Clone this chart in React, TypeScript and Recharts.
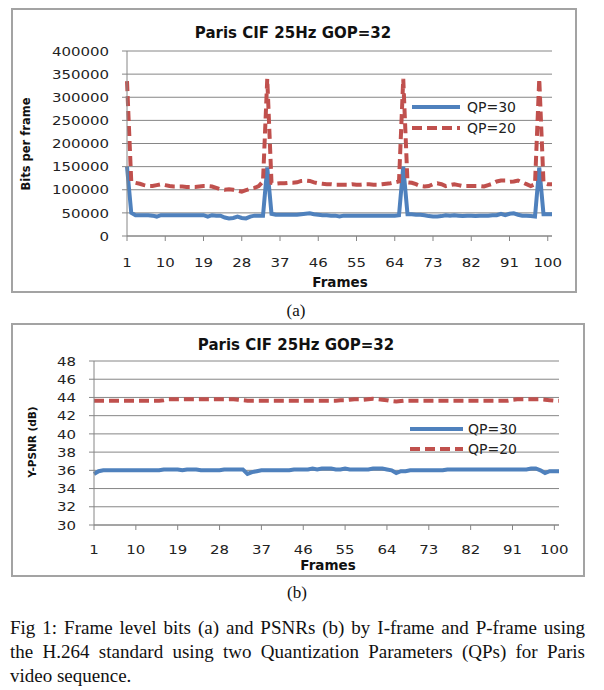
import React from 'react';
import { LineChart, Line, XAxis, YAxis, CartesianGrid, Legend } from 'recharts';

const frames = [
  1, 2, 3, 4, 5, 6, 7, 8, 9, 10, 11, 12, 13, 14, 15, 16, 17, 18, 19, 20,
  21, 22, 23, 24, 25, 26, 27, 28, 29, 30, 31, 32, 33, 34, 35, 36, 37, 38, 39, 40,
  41, 42, 43, 44, 45, 46, 47, 48, 49, 50, 51, 52, 53, 54, 55, 56, 57, 58, 59, 60,
  61, 62, 63, 64, 65, 66, 67, 68, 69, 70, 71, 72, 73, 74, 75, 76, 77, 78, 79, 80,
  81, 82, 83, 84, 85, 86, 87, 88, 89, 90, 91, 92, 93, 94, 95, 96, 97, 98, 99, 100,
  101,
];

const frameTicks = [1, 10, 19, 28, 37, 46, 55, 64, 73, 82, 91, 100];
const bitsTicks = [0, 50000, 100000, 150000, 200000, 250000, 300000, 350000, 400000];
const psnrTicks = [30, 32, 34, 36, 38, 40, 42, 44, 46, 48];

const qp30Bits = [
  150000, 50000, 45000, 45000, 45000, 45000, 44000, 42000, 45000, 45000,
  45000, 45000, 45000, 45000, 45000, 45000, 45000, 45000, 45000, 42000,
  45000, 44000, 44000, 40000, 38000, 39000, 42000, 39000, 38000, 42000,
  44000, 44000, 44000, 148000, 48000, 46000, 46000, 46000, 46000, 46000,
  46000, 47000, 48000, 49000, 47000, 46000, 45000, 45000, 44000, 44000,
  42000, 44000, 44000, 44000, 44000, 44000, 44000, 44000, 44000, 44000,
  44000, 44000, 44000, 44000, 45000, 150000, 47000, 47000, 46000, 46000,
  45000, 43000, 42000, 42000, 43000, 45000, 44000, 45000, 44000, 43000,
  44000, 44000, 43000, 44000, 44000, 44000, 45000, 45000, 48000, 45000,
  48000, 49000, 46000, 44000, 44000, 43000, 42000, 148000, 47000, 47000,
  47000,
];

const qp20Bits = [
  335000, 118000, 115000, 113000, 110000, 108000, 108000, 110000, 112000, 110000,
  108000, 107000, 107000, 107000, 106000, 106000, 106000, 107000, 108000, 108000,
  107000, 104000, 101000, 100000, 101000, 100000, 98000, 96000, 99000, 102000,
  104000, 108000, 118000, 340000, 115000, 113000, 114000, 114000, 115000, 115000,
  116000, 119000, 120000, 119000, 116000, 114000, 113000, 112000, 112000, 111000,
  111000, 111000, 111000, 112000, 111000, 111000, 112000, 112000, 111000, 111000,
  112000, 113000, 114000, 116000, 118000, 340000, 116000, 115000, 112000, 108000,
  107000, 108000, 112000, 114000, 112000, 108000, 110000, 112000, 110000, 108000,
  108000, 108000, 108000, 108000, 107000, 110000, 113000, 118000, 120000, 120000,
  117000, 118000, 120000, 116000, 112000, 108000, 112000, 340000, 115000, 112000,
  112000,
];

const qp30Psnr = [
  35.6, 35.9, 36.0, 36.0, 36.0, 36.0, 36.0, 36.0, 36.0, 36.0,
  36.0, 36.0, 36.0, 36.0, 36.0, 36.1, 36.1, 36.1, 36.1, 36.0,
  36.1, 36.1, 36.1, 36.0, 36.0, 36.0, 36.0, 36.0, 36.1, 36.1,
  36.1, 36.1, 36.1, 35.6, 35.8, 35.9, 36.0, 36.0, 36.0, 36.0,
  36.0, 36.0, 36.0, 36.1, 36.1, 36.1, 36.1, 36.2, 36.1, 36.2,
  36.2, 36.2, 36.1, 36.1, 36.2, 36.1, 36.1, 36.1, 36.1, 36.1,
  36.2, 36.2, 36.2, 36.1, 36.0, 35.7, 35.9, 35.9, 36.0, 36.0,
  36.0, 36.0, 36.0, 36.0, 36.0, 36.0, 36.1, 36.1, 36.1, 36.1,
  36.1, 36.1, 36.1, 36.1, 36.1, 36.1, 36.1, 36.1, 36.1, 36.1,
  36.1, 36.1, 36.1, 36.1, 36.2, 36.2, 36.0, 35.7, 35.9, 35.9,
  35.9,
];

const qp20Psnr = [
  43.65, 43.65, 43.65, 43.65, 43.65, 43.65, 43.65, 43.65, 43.65, 43.65,
  43.65, 43.65, 43.65, 43.65, 43.65, 43.7, 43.8, 43.8, 43.8, 43.8,
  43.8, 43.8, 43.8, 43.8, 43.8, 43.8, 43.8, 43.8, 43.8, 43.8,
  43.8, 43.75, 43.7, 43.65, 43.65, 43.65, 43.65, 43.65, 43.65, 43.65,
  43.65, 43.65, 43.65, 43.65, 43.65, 43.65, 43.65, 43.65, 43.65, 43.65,
  43.65, 43.65, 43.65, 43.7, 43.7, 43.75, 43.8, 43.8, 43.75, 43.8,
  43.85, 43.8, 43.75, 43.7, 43.6, 43.55, 43.6, 43.65, 43.65, 43.65,
  43.65, 43.65, 43.65, 43.65, 43.65, 43.65, 43.65, 43.65, 43.65, 43.65,
  43.65, 43.65, 43.65, 43.65, 43.65, 43.65, 43.65, 43.65, 43.65, 43.65,
  43.75, 43.8, 43.8, 43.8, 43.8, 43.8, 43.8, 43.75, 43.7, 43.65,
  43.65,
];

const seriesNames = ['QP=30', 'QP=20'];
const chartTitle = 'Paris CIF 25Hz GOP=32';
const captionLines = [
  'Fig 1: Frame level bits (a) and PSNRs (b) by I-frame and P-frame using',
  'the H.264 standard using two Quantization Parameters (QPs) for Paris',
  'video sequence.',
];

const bitsData = frames.map((f, i) => ({ frame: f, qp30: qp30Bits[i], qp20: qp20Bits[i] }));
const psnrData = frames.map((f, i) => ({ frame: f, qp30: qp30Psnr[i], qp20: qp20Psnr[i] }));

const BLUE = '#4F81BD';
const RED = '#C0504D';
const GRID = '#868686';
const SANS = 'DejaVu Sans, Verdana, sans-serif';
const TICK_FS = 13;
const TICK_SX = 1.15;

const YTick = (props: any) => {
  const { x, y, payload } = props;
  return (
    <text
      transform={`translate(${x},${y}) scale(${TICK_SX},1)`}
      textAnchor="end"
      dy="0.36em"
      fontFamily={SANS}
      fontSize={TICK_FS}
      fill="#222"
    >
      {payload.value}
    </text>
  );
};

const XTick = (props: any) => {
  const { x, y, payload } = props;
  return (
    <text
      transform={`translate(${x},${y}) scale(${TICK_SX},1)`}
      textAnchor="middle"
      dy="0.71em"
      fontFamily={SANS}
      fontSize={TICK_FS}
      fill="#222"
    >
      {payload.value}
    </text>
  );
};

const makeLegend = (lineLen: number, textX: number, gap: number) => () => (
  <svg width={140} height={50} style={{ display: 'block' }}>
    <line x1={0} x2={lineLen} y1={10} y2={10} stroke={BLUE} strokeWidth={4} />
    <text x={textX} y={10} dy="0.36em" fontFamily={SANS} fontSize={14} fill="#222">
      {seriesNames[0]}
    </text>
    <line x1={0} x2={lineLen} y1={10 + gap} y2={10 + gap} stroke={RED} strokeWidth={4} strokeDasharray="10 5" />
    <text x={textX} y={10 + gap} dy="0.36em" fontFamily={SANS} fontSize={14} fill="#222">
      {seriesNames[1]}
    </text>
  </svg>
);

const Label = ({ x, y, text, size, bold = true, rotate = false, family = SANS }: any) => (
  <div
    style={{
      position: 'absolute',
      left: x,
      top: y,
      transform: `translate(-50%,-50%)${rotate ? ' rotate(-90deg)' : ''}`,
      whiteSpace: 'nowrap',
      fontFamily: family,
      fontSize: size,
      fontWeight: bold ? 'bold' : 'normal',
      lineHeight: 1,
      color: '#111',
    }}
  >
    {text}
  </div>
);

const Box = ({ left, top, width, height }: any) => (
  <div
    style={{
      position: 'absolute',
      left,
      top,
      width,
      height,
      boxSizing: 'border-box',
      border: '2px solid #a3a3a3',
      pointerEvents: 'none',
    }}
  />
);

export default function App() {
  return (
    <div style={{ position: 'absolute', left: 0, top: 0, width: 604, height: 690, background: '#fff', overflow: 'hidden' }}>
      {/* Chart (a) */}
      <div style={{ position: 'absolute', left: 11, top: 8 }}>
        <LineChart width={566} height={285} data={bitsData} margin={{ top: 43, right: 25, left: 0, bottom: 0 }}>
          <CartesianGrid vertical={false} stroke={GRID} strokeWidth={1} />
          <XAxis
            dataKey="frame"
            type="number"
            domain={[1, 101]}
            ticks={frameTicks}
            interval={0}
            height={57}
            tickSize={5}
            tickMargin={17}
            tick={<XTick />}
            stroke={GRID}
          />
          <YAxis
            domain={[0, 400000]}
            ticks={bitsTicks}
            interval={0}
            width={116}
            tickSize={5}
            tickMargin={13}
            tick={<YTick />}
            stroke={GRID}
          />
          <Legend
            layout="vertical"
            align="center"
            verticalAlign="middle"
            content={makeLegend(48, 55, 21)}
            wrapperStyle={{ left: 401, top: 89, width: 140, height: 50 }}
          />
          <Line type="linear" dataKey="qp30" name={seriesNames[0]} stroke={BLUE} strokeWidth={4} dot={false} isAnimationActive={false} />
          <Line type="linear" dataKey="qp20" name={seriesNames[1]} stroke={RED} strokeWidth={4} strokeDasharray="10 5" dot={false} isAnimationActive={false} />
        </LineChart>
      </div>
      <Box left={11} top={8} width={566} height={285} />
      <Label x={293} y={33} text={chartTitle} size={15} />
      <Label x={27} y={144} text="Bits per frame" size={11.5} rotate />
      <Label x={340} y={283} text="Frames" size={13.5} />
      <Label x={296} y={310} text="(a)" size={17} bold={false} family="Liberation Serif, Times New Roman, serif" />

      {/* Chart (b) */}
      <div style={{ position: 'absolute', left: 11, top: 323 }}>
        <LineChart width={574} height={254} data={psnrData} margin={{ top: 38, right: 26, left: 0, bottom: 0 }}>
          <CartesianGrid vertical={false} stroke={GRID} strokeWidth={1} />
          <XAxis
            dataKey="frame"
            type="number"
            domain={[1, 101]}
            ticks={frameTicks}
            interval={0}
            height={52}
            tickSize={5}
            tickMargin={15}
            tick={<XTick />}
            stroke={GRID}
          />
          <YAxis
            domain={[30, 48]}
            ticks={psnrTicks}
            interval={0}
            width={83}
            tickSize={5}
            tickMargin={13}
            tick={<YTick />}
            stroke={GRID}
          />
          <Legend
            layout="vertical"
            align="center"
            verticalAlign="middle"
            content={makeLegend(53, 58, 20)}
            wrapperStyle={{ left: 399, top: 96, width: 140, height: 50 }}
          />
          <Line type="linear" dataKey="qp30" name={seriesNames[0]} stroke={BLUE} strokeWidth={4} dot={false} isAnimationActive={false} />
          <Line type="linear" dataKey="qp20" name={seriesNames[1]} stroke={RED} strokeWidth={4} strokeDasharray="10 5" dot={false} isAnimationActive={false} />
        </LineChart>
      </div>
      <Box left={11} top={323} width={574} height={254} />
      <Label x={296} y={345} text={chartTitle} size={15} />
      <Label x={32} y={442} text="Y-PSNR (dB)" size={10.5} rotate />
      <Label x={328} y={566} text="Frames" size={13.5} />
      <Label x={297} y={592} text="(b)" size={17} bold={false} family="Liberation Serif, Times New Roman, serif" />

      {/* Caption */}
      {captionLines.map((line, i) => (
        <div
          key={i}
          style={{
            position: 'absolute',
            left: 10,
            top: 615 + i * 24,
            width: 575,
            fontFamily: 'Liberation Serif, Times New Roman, serif',
            fontSize: 19,
            lineHeight: '25px',
            color: '#111',
            textAlign: i < 2 ? 'justify' : 'left',
            textAlignLast: i < 2 ? 'justify' : 'left',
            whiteSpace: 'nowrap',
          } as React.CSSProperties}
        >
          {line}
        </div>
      ))}
    </div>
  );
}
